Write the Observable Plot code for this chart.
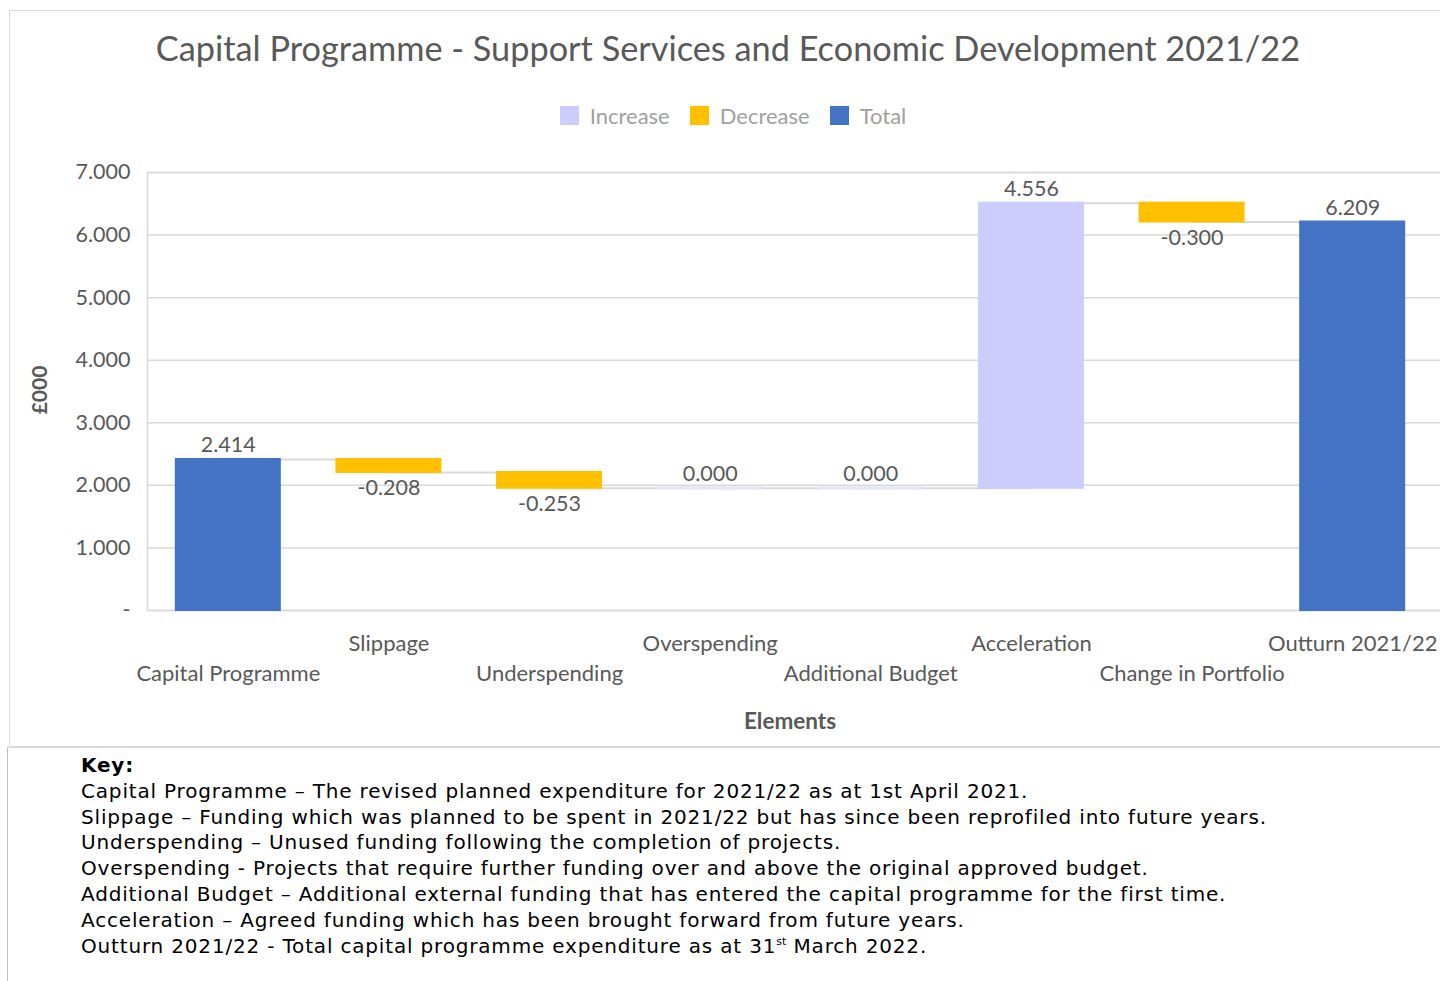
<!DOCTYPE html>
<html>
<head>
<meta charset="utf-8">
<script src="https://cdn.jsdelivr.net/npm/d3@7"></script>
<script src="https://cdn.jsdelivr.net/npm/@observablehq/plot@0.6"></script>
<style>
  html, body { margin: 0; padding: 0; background: #fff; }
  #page { position: relative; width: 1440px; height: 981px; overflow: hidden; background: #fff; }
  #frame { position: absolute; left: 9px; top: 10px; width: 1460px; height: 737px; border: 1px solid #d9d9d9; box-sizing: border-box; }
  #title { position: absolute; left: 9px; width: 1438px; top: 27px; line-height: 42px; text-align: center; font-family: Lato, sans-serif; font-size: 34.3px; color: #595959; }
  #legend { position: absolute; left: 9px; width: 1448px; top: 101px; height: 28px; display: flex; justify-content: center; align-items: center; font-family: Lato, sans-serif; font-size: 22px; color: #a0a0a0; }
  #legend .item { display: flex; align-items: center; margin: 0 10px; }
  #legend .sw { width: 19px; height: 19px; margin-right: 11px; }
  #ylabel { position: absolute; left: 38px; top: 390px; transform: translate(-50%, -50%) rotate(-90deg); font-family: Lato, sans-serif; font-weight: bold; font-size: 21px; color: #595959; white-space: nowrap; }
  #xlabel { position: absolute; left: 790px; top: 720px; transform: translate(-50%, -50%); font-family: Lato, sans-serif; font-weight: bold; font-size: 22.5px; color: #595959; }
  #chart { position: absolute; left: 0; top: 140px; }
  #key { position: absolute; left: 7px; top: 747px; width: 1460px; height: 260px; border-left: 1px solid #bfbfbf; border-top: 1px solid #d9d9d9; box-sizing: border-box; }
  #keytext { position: absolute; left: 81px; top: 753px; font-family: "DejaVu Sans", Verdana, sans-serif; font-size: 20px; letter-spacing: 0.82px; line-height: 25.8px; color: #000; white-space: nowrap; }
  #keytext sup { font-size: 11px; vertical-align: 8px; line-height: 0; letter-spacing: 0; }
</style>
</head>
<body>
<div id="page">
  <div id="frame"></div>
  <div id="key"></div>
  <div id="title">Capital Programme - Support Services and Economic Development 2021/22</div>
  <div id="legend"></div>
  <div id="chart"></div>
  <div id="ylabel">£000</div>
  <div id="xlabel">Elements</div>
  <div id="keytext">
    <div><b>Key:</b></div>
    <div>Capital Programme – The revised planned expenditure for 2021/22 as at 1st April 2021.</div>
    <div>Slippage – Funding which was planned to be spent in 2021/22 but has since been reprofiled into future years.</div>
    <div>Underspending – Unused funding following the completion of projects.</div>
    <div>Overspending - Projects that require further funding over and above the original approved budget.</div>
    <div>Additional Budget – Additional external funding that has entered the capital programme for the first time.</div>
    <div>Acceleration – Agreed funding which has been brought forward from future years.</div>
    <div>Outturn 2021/22 - Total capital programme expenditure as at 31<sup>st</sup> March 2022.</div>
  </div>
</div>
<script>
// ---- data ----
const categories = ["Capital Programme", "Slippage", "Underspending", "Overspending", "Additional Budget", "Acceleration", "Change in Portfolio", "Outturn 2021/22"];
const values = [2.414, -0.208, -0.253, 0.000, 0.000, 4.556, -0.300, 6.209];
const kinds = ["Total", "Decrease", "Decrease", "Increase", "Increase", "Increase", "Decrease", "Total"];
const legendKeys = ["Increase", "Decrease", "Total"];
const legendColors = ["#CCCCFF", "#FFC000", "#4472C4"];
const yTicks = [0, 1, 2, 3, 4, 5, 6, 7];

// ---- waterfall table ----
let running = 0;
const rows = categories.map((c, i) => {
  const v = values[i], k = kinds[i];
  let y1, y2;
  if (k === "Total") { y1 = 0; y2 = v; running = v; }
  else { y1 = running; y2 = running + v; running = y2; }
  return {cat: c, value: v, kind: k, y1, y2, lo: Math.min(y1, y2), hi: Math.max(y1, y2), end: running, label: v.toFixed(3)};
});
const connectors = rows.slice(0, -1).map((r, i) => ({from: r.cat, to: rows[i + 1].cat, level: r.end}));

// ---- legend ----
const legend = document.getElementById("legend");
legendKeys.forEach((k, i) => {
  const it = document.createElement("div");
  it.className = "item";
  it.innerHTML = `<span class="sw" style="background:${legendColors[i]}"></span><span>${k}</span>`;
  legend.appendChild(it);
});

const topRow = categories.filter((_, i) => i % 2 === 1);
const bottomRow = categories.filter((_, i) => i % 2 === 0);

const chart = Plot.plot({
  width: 1440,
  height: 620,
  marginTop: 32,
  marginBottom: 150,
  marginLeft: 147,
  marginRight: 0,
  style: {background: "transparent", fontFamily: "Lato, sans-serif", fontSize: "20px", color: "#595959", overflow: "hidden"},
  x: {type: "band", domain: categories, range: [147.5, 1432.5], paddingInner: 0.34, paddingOuter: 0.17, round: false, axis: null},
  y: {domain: [0, 7], axis: null},
  color: {domain: legendKeys, range: legendColors},
  marks: [
    Plot.gridY(yTicks, {stroke: "#d9d9d9", strokeOpacity: 1, strokeWidth: 1.5}),
    Plot.frame({stroke: "#d9d9d9", strokeWidth: 1.5, insetRight: -6}),
    Plot.axisY(yTicks, {tickSize: 0, tickPadding: 17, tickFormat: d => d === 0 ? "-" : d.toFixed(3), fontSize: 21.5, fill: "#595959", label: null}),
    Plot.axisX(topRow, {tickSize: 0, tickPadding: 25, fontSize: 22, fill: "#595959", label: null}),
    Plot.axisX(bottomRow, {tickSize: 0, tickPadding: 55, fontSize: 22, fill: "#595959", label: null}),
    Plot.link(connectors, {x1: "from", x2: "to", y1: "level", y2: "level", stroke: "#d9d9d9", strokeWidth: 2}),
    Plot.barY(rows.filter(r => r.value !== 0), {x: "cat", y1: "lo", y2: "hi", fill: "kind", insetTop: -1, insetBottom: -1}),
    Plot.barY(rows.filter(r => r.value === 0), {x: "cat", y1: "lo", y2: "hi", fill: "#e4e4fb", insetTop: -1.5, insetBottom: -1.5}),
    Plot.text(rows.filter(r => r.kind !== "Decrease"), {x: "cat", y: "hi", text: "label", dy: -14, fill: "#595959", fontSize: 21.5}),
    Plot.text(rows.filter(r => r.kind === "Decrease"), {x: "cat", y: "lo", text: "label", dy: 16, fill: "#595959", fontSize: 21.5})
  ]
});
document.getElementById("chart").appendChild(chart);
</script>
</body>
</html>
